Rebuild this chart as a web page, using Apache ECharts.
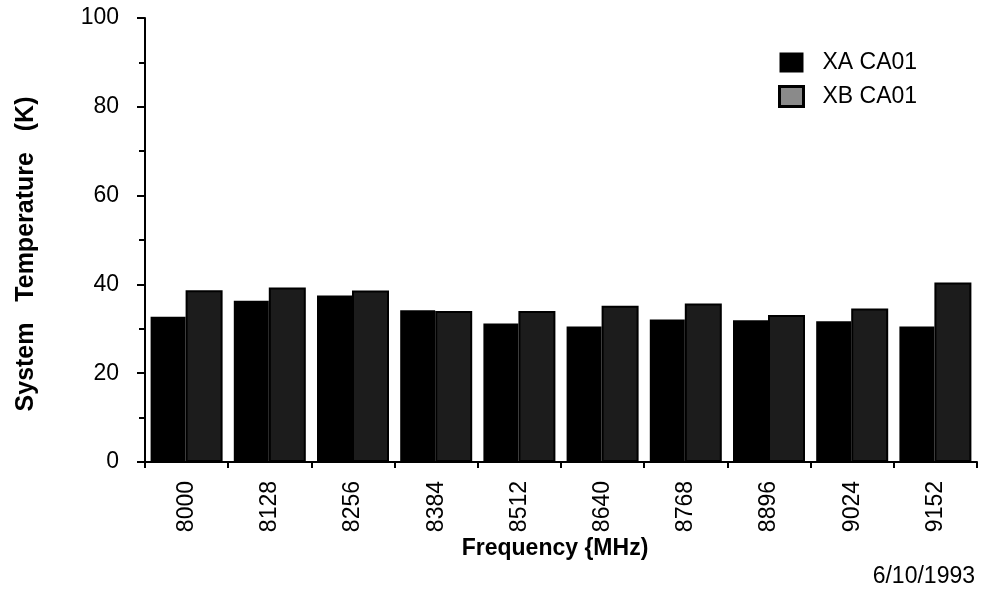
<!DOCTYPE html>
<html>
<head>
<meta charset="utf-8">
<script src="https://cdn.jsdelivr.net/npm/echarts@6/dist/echarts.min.js"></script>
<style>html,body{margin:0;padding:0;background:#fff}#c{width:981px;height:590px}</style>
</head>
<body>
<div id="c"></div>
<script>
const categories = ['8000','8128','8256','8384','8512','8640','8768','8896','9024','9152'];
const xaValues = [32.7, 36.3, 37.5, 34.2, 31.2, 30.5, 32.1, 31.9, 31.7, 30.5];
const xbValues = [38.7, 39.3, 38.6, 34.0, 34.0, 35.2, 35.7, 33.1, 34.6, 40.4];
const yTicks = [0, 20, 40, 60, 80, 100];
const seriesNames = ['XA CA01', 'XB CA01'];

const FONT = '"Liberation Sans", Arial, Helvetica, sans-serif';
const chart = echarts.init(document.getElementById('c'), null, {renderer: 'canvas'});
chart.setOption({
  backgroundColor: '#fff',
  animation: false,
  grid: {left: 145, right: 4, top: 18, bottom: 128, containLabel: false},
  legend: {
    orient: 'vertical', left: 773, top: 46, itemWidth: 24, itemHeight: 20, itemGap: 11,
    textStyle: {fontFamily: FONT, fontSize: 23, color: '#000', padding: [0, 0, 0, 14]},
    data: [
      {name: seriesNames[0], icon: 'rect', itemStyle: {color: '#000'}},
      {name: seriesNames[1], icon: 'rect', itemStyle: {color: '#8a8a8a', borderColor: '#000', borderWidth: 3}}
    ]
  },
  xAxis: {
    type: 'category', data: categories, boundaryGap: true,
    axisLine: {lineStyle: {color: '#000', width: 2}},
    axisTick: {show: true, interval: 0, length: 6, lineStyle: {color: '#000', width: 2}},
    axisLabel: {rotate: 90, margin: 19, fontFamily: FONT, fontSize: 23, color: '#000', interval: 0},
    splitLine: {show: false}
  },
  yAxis: {
    type: 'value', min: 0, max: 100, interval: 20,
    axisLine: {show: true, lineStyle: {color: '#000', width: 2}},
    axisTick: {show: true, length: 8, lineStyle: {color: '#000', width: 2}},
    minorTick: {show: true, splitNumber: 2, length: 6, lineStyle: {color: '#000', width: 2}},
    axisLabel: {margin: 26, fontFamily: FONT, fontSize: 23, color: '#000',
      formatter: v => yTicks.indexOf(v) >= 0 ? String(v) : ''},
    splitLine: {show: false}
  },
  series: [
    {name: seriesNames[0], type: 'bar', data: xaValues, barWidth: 35, barGap: '0%',
     itemStyle: {color: '#000'}},
    {name: seriesNames[1], type: 'bar', data: xbValues, barWidth: 37,
     itemStyle: {color: '#1c1c1c', borderColor: '#000', borderWidth: 2}}
  ],
  graphic: [
    {type: 'text', rotation: Math.PI / 2, x: 26, y: 254,
     style: {text: 'System   Temperature   (K)', font: 'bold 25px ' + FONT, fill: '#000',
             textAlign: 'center', textVerticalAlign: 'middle'}},
    {type: 'text', x: 555, y: 549,
     style: {text: 'Frequency {MHz)', font: 'bold 23px ' + FONT, fill: '#000',
             textAlign: 'center', textVerticalAlign: 'middle'}},
    {type: 'text', x: 975, y: 577,
     style: {text: '6/10/1993', font: '23px ' + FONT, fill: '#000',
             textAlign: 'right', textVerticalAlign: 'middle'}}
  ]
});
</script>
</body>
</html>
